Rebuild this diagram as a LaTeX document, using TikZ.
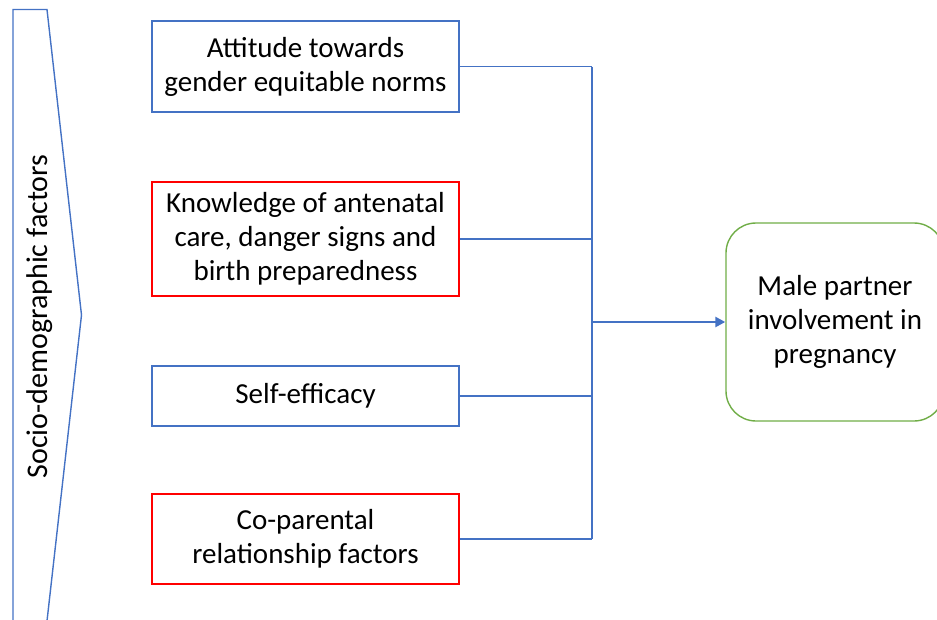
\documentclass[tikz,border=0pt]{standalone}
\usepackage{fontspec}
\setmainfont{Carlito}
\usetikzlibrary{arrows.meta}
\definecolor{boxblue}{HTML}{4472C4}
\definecolor{boxred}{HTML}{FF0000}
\definecolor{boxgreen}{HTML}{70AD47}
\begin{document}
\begin{tikzpicture}[x=1pt,y=-1pt,
  txt/.style={font=\fontsize{29}{34}\selectfont, align=center, text=black},
  factor/.style={txt, draw, line width=1.4pt, minimum width=307pt, inner sep=0pt},
  bluebox/.style={factor, draw=boxblue},
  redbox/.style={factor, draw=boxred},
  outcome/.style={txt, draw=boxgreen, line width=1.4pt, rounded corners=30pt,
    minimum width=218pt, minimum height=198pt, inner sep=0pt},
  link/.style={draw=boxblue, line width=1.4pt},
  mainarrow/.style={draw=boxblue, line width=2.8pt, -{Triangle[length=10pt,width=10pt]}}]
\useasboundingbox (0,0) rectangle (937,619);
\clip (0,0) rectangle (937,619);

% socio-demographic chevron on the left
\coordinate (c1) at (13,621);
\coordinate (c2) at (13,9.5);
\coordinate (c3) at (47,9.5);
\coordinate (c4) at (81.5,315);
\coordinate (c5) at (47,621);
\draw[boxblue, line width=1.4pt] (c1) -- (c2) -- (c3) -- (c4) -- (c5) -- cycle;
\node[txt, font=\fontsize{30}{34}\selectfont, rotate=90] (socio) at (40,316.5)
  {Socio-demographic factors};

% factor boxes
\node[bluebox, minimum height=91pt] (att) at (305.5,66.5)
  {Attitude towards\\gender equitable norms};
\node[redbox, minimum height=114pt] (know) at (305.5,239)
  {Knowledge of antenatal\\care, danger signs and\\birth preparedness};
\node[bluebox, minimum height=60pt] (self) at (305.5,396) {Self-efficacy};
\node[redbox, minimum height=90pt] (copar) at (305.5,539)
  {Co-parental\\relationship factors};

% outcome box
\node[outcome] (male) at (835,322)
  {Male partner\\involvement in\\pregnancy};

% bracket joining the factors
\coordinate (jx) at (592,0);
\draw[link] (att.east) -- (att.east -| jx);
\draw[link] (know.east) -- (know.east -| jx);
\draw[link] (self.east) -- (self.east -| jx);
\draw[link] (copar.east) -- (copar.east -| jx);
\draw[link] (att.east -| jx) -- (copar.east -| jx);
\draw[mainarrow] (male.west -| jx) -- (male.west);
\end{tikzpicture}
\end{document}
